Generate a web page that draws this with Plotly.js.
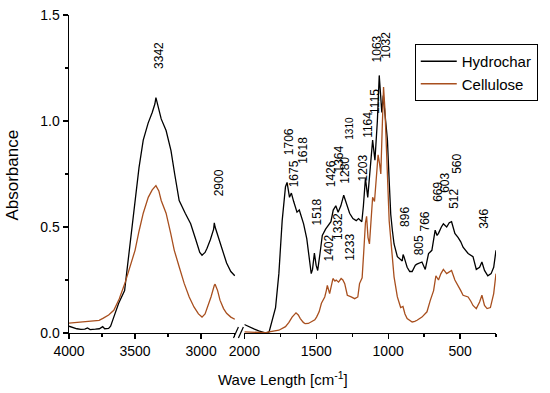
<!DOCTYPE html>
<html>
<head>
<meta charset="utf-8">
<script src="https://cdn.plot.ly/plotly-3.0.1.min.js"></script>
<style>html,body{margin:0;padding:0;background:#fff}#chart{width:550px;height:393px}</style>
</head>
<body>
<div id="chart"></div>
<script>
// ---- Data (wavenumber cm-1, absorbance) ----
// High wavenumber region (4000 - 2740)
const hydroHighX = [4000,3970,3940,3910,3880,3860,3840,3800,3770,3745,3730,3700,3685,3661,3624,3579,3537,3500,3470,3438,3401,3370,3350,3342,3330,3302,3265,3228,3200,3166,3120,3079,3040,3010,2993,2970,2955,2930,2905,2900,2894,2869,2840,2807,2775,2745];
const hydroHighY = [0.032,0.025,0.02,0.017,0.018,0.024,0.016,0.018,0.02,0.03,0.02,0.022,0.032,0.075,0.14,0.2,0.42,0.625,0.78,0.91,0.99,1.04,1.08,1.11,1.08,1.01,0.955,0.86,0.75,0.625,0.565,0.515,0.44,0.38,0.367,0.38,0.40,0.44,0.49,0.52,0.50,0.45,0.39,0.33,0.29,0.27];
const celluHighX = [4000,3950,3900,3850,3800,3772,3740,3700,3661,3620,3574,3540,3500,3470,3438,3400,3370,3342,3320,3302,3265,3230,3203,3165,3128,3090,3054,3020,2993,2970,2955,2925,2900,2894,2875,2857,2830,2807,2775,2745];
const celluHighY = [0.047,0.05,0.052,0.055,0.057,0.06,0.07,0.085,0.107,0.16,0.24,0.31,0.39,0.48,0.565,0.64,0.675,0.695,0.67,0.625,0.565,0.47,0.39,0.31,0.234,0.17,0.123,0.09,0.075,0.09,0.115,0.17,0.225,0.23,0.2,0.155,0.115,0.093,0.075,0.065];

// Fingerprint region (2000 - 250)
const hydroLowX = [2000,1988,1960,1930,1900,1876,1850,1828,1806,1783,1760,1737,1714,1703,1686,1673,1657,1634,1618,1588,1566,1549,1535,1526,1518,1513,1501,1490,1474,1458,1435,1417,1398,1382,1364,1348,1329,1309,1291,1268,1245,1222,1206,1183,1172,1158,1142,1125,1108,1092,1075,1062,1044,1034,1020,1005,993,982,970,959,936,902,896,890,868,850,833,811,800,787,765,742,719,696,673,660,650,630,616,593,575,559,536,513,495,479,444,410,387,364,348,330,307,284,266,250];
const hydroLowY = [0.04,0.036,0.025,0.018,0.01,0.005,0.0,0.005,0.06,0.12,0.28,0.53,0.69,0.71,0.64,0.66,0.62,0.57,0.58,0.515,0.445,0.34,0.28,0.30,0.36,0.377,0.32,0.295,0.375,0.46,0.49,0.51,0.525,0.58,0.60,0.57,0.60,0.65,0.61,0.565,0.54,0.53,0.54,0.525,0.6,0.73,0.64,0.78,0.91,0.815,1.0,1.215,1.04,1.12,1.02,0.91,0.72,0.56,0.48,0.42,0.36,0.34,0.37,0.36,0.31,0.29,0.29,0.32,0.325,0.33,0.335,0.30,0.375,0.39,0.485,0.46,0.47,0.5,0.515,0.50,0.52,0.525,0.47,0.45,0.43,0.405,0.375,0.36,0.30,0.31,0.335,0.295,0.27,0.28,0.31,0.39];
const celluLowX = [2000,1950,1900,1850,1828,1790,1760,1714,1690,1668,1641,1625,1611,1590,1577,1555,1532,1510,1498,1480,1464,1441,1430,1423,1407,1395,1384,1370,1361,1345,1327,1315,1302,1284,1270,1257,1233,1211,1199,1181,1170,1158,1150,1140,1130,1118,1108,1095,1080,1070,1060,1051,1042,1032,1022,1010,1000,993,975,959,936,913,897,883,868,850,833,815,799,765,730,707,684,668,650,633,616,593,575,559,536,513,495,479,444,425,410,387,364,348,330,312,289,266,250];
const celluLowY = [0.005,0.003,0.002,0.002,0.005,0.008,0.013,0.03,0.05,0.075,0.095,0.085,0.068,0.05,0.044,0.045,0.052,0.062,0.075,0.1,0.14,0.17,0.2,0.225,0.186,0.22,0.257,0.245,0.25,0.24,0.257,0.25,0.233,0.178,0.172,0.17,0.162,0.17,0.233,0.26,0.38,0.52,0.55,0.45,0.42,0.55,0.64,0.62,0.78,0.84,0.80,0.75,0.95,1.16,1.05,0.85,0.65,0.53,0.39,0.265,0.17,0.12,0.125,0.09,0.068,0.058,0.052,0.055,0.06,0.075,0.10,0.154,0.20,0.27,0.25,0.28,0.30,0.28,0.29,0.295,0.25,0.225,0.2,0.178,0.17,0.15,0.13,0.115,0.146,0.178,0.13,0.115,0.12,0.186,0.28];

// Peak labels: text, anchor wavenumber, anchor absorbance, axis
const peakText = ['3342','2900','1706','1675','1618','1518','1426','1364','1280','1310','1203','1164','1115','1063','1032','1402','1332','1233','896','805','766','669','603','560','512','346'];
const peakWn   = [3314,2869,1684,1655,1588,1494,1398,1341,1298,1266,1177,1136,1087,1077,1012,1413,1348,1266,878,789,745,649,601,518,539,330];
const peakAbs  = [1.31,0.708,0.904,0.753,0.862,0.569,0.753,0.819,0.767,0.968,0.779,0.98,1.093,1.338,1.357,0.402,0.501,0.407,0.546,0.416,0.525,0.664,0.706,0.80,0.635,0.541];
const peakAxis = ['x','x','x2','x2','x2','x2','x2','x2','x2','x2','x2','x2','x2','x2','x2','x2','x2','x2','x2','x2','x2','x2','x2','x2','x2','x2'];

const seriesNames = ['Hydrochar','Cellulose'];
const seriesColors = ['#000000','#a84f1e'];

// ---- Build ----
const FONT = 'Arial, "Liberation Sans", sans-serif';
const traces = [
  {x: hydroHighX, y: hydroHighY, xaxis:'x', yaxis:'y', mode:'lines', name:seriesNames[0], showlegend:true, line:{color:seriesColors[0], width:1.3}},
  {x: celluHighX, y: celluHighY, xaxis:'x', yaxis:'y', mode:'lines', name:seriesNames[1], showlegend:true, line:{color:seriesColors[1], width:1.3}},
  {x: hydroLowX, y: hydroLowY, xaxis:'x2', yaxis:'y', mode:'lines', name:seriesNames[0], showlegend:false, line:{color:seriesColors[0], width:1.3}},
  {x: celluLowX, y: celluLowY, xaxis:'x2', yaxis:'y', mode:'lines', name:seriesNames[1], showlegend:false, line:{color:seriesColors[1], width:1.3}}
];

const L = 69, R = 50, T = 15, B = 60, W = 550, H = 393;
const pw = W - L - R, ph = H - T - B;
const px = v => (v - L) / pw;
const py = v => (H - B - v) / ph;

const axisCommon = {
  showline:true, linecolor:'#000', linewidth:1.4, mirror:false,
  ticks:'outside', ticklen:5, tickwidth:1.3, tickcolor:'#000',
  showgrid:false, zeroline:false,
  tickfont:{family:FONT, size:14, color:'#000'},
  fixedrange:true
};

const annotations = peakText.map((t, i) => ({
  text: t, x: peakWn[i], y: peakAbs[i], xref: peakAxis[i], yref: 'y',
  showarrow: false, textangle: -90, xanchor: 'center', yanchor: 'middle',
  font: {family: FONT, size: t === '1310' ? 10 : 12, color: '#000'}
}));
annotations.push({
  text: 'Wave Length [cm<sup>-1</sup>]', xref:'paper', yref:'paper',
  x: px(285), y: py(378), showarrow:false, xanchor:'center', yanchor:'middle',
  font:{family:FONT, size:15, color:'#000'}
});
annotations.push({
  text: 'Absorbance', xref:'paper', yref:'paper', textangle:-90,
  x: px(11), y: py(175), showarrow:false, xanchor:'center', yanchor:'middle',
  font:{family:FONT, size:17, color:'#000'}
});

const layout = {
  width: W, height: H,
  margin: {l:L, r:R, t:T, b:B, pad:0},
  paper_bgcolor:'#fff', plot_bgcolor:'#fff',
  font:{family:FONT, color:'#000'},
  showlegend:true,
  legend:{x:px(418), y:py(72.5), xanchor:'left', yanchor:'middle', bgcolor:'#fff',
    bordercolor:'#000', borderwidth:1, font:{family:FONT, size:15, color:'#000'},
    itemwidth:36, tracegroupgap:0},
  xaxis: Object.assign({}, axisCommon, {domain:[0, px(237)], range:[4000, 2740], tick0:0, dtick:500,
    minor:{dtick:250, tick0:0, ticks:'outside', ticklen:3, tickwidth:1.2, tickcolor:'#000'}}),
  xaxis2: Object.assign({}, axisCommon, {domain:[px(246), 1], range:[2000, 250], anchor:'y', tick0:0, dtick:500,
    minor:{dtick:250, tick0:0, ticks:'outside', ticklen:3, tickwidth:1.2, tickcolor:'#000'}}),
  yaxis: Object.assign({}, axisCommon, {range:[0, 1.5], dtick:0.5, tick0:0, tickformat:'.1f', anchor:'x',
    minor:{dtick:0.25, tick0:0, ticks:'outside', ticklen:3, tickwidth:1.2, tickcolor:'#000'}}),
  shapes: [
    {type:'line', xref:'paper', yref:'paper', x0:px(235), y0:py(338), x1:px(240), y1:py(327), line:{color:'#000', width:1.2}},
    {type:'line', xref:'paper', yref:'paper', x0:px(240), y0:py(338), x1:px(245), y1:py(327), line:{color:'#000', width:1.2}}
  ],
  annotations: annotations
};

Plotly.newPlot('chart', traces, layout, {displayModeBar:false, staticPlot:true});
</script>
</body>
</html>
